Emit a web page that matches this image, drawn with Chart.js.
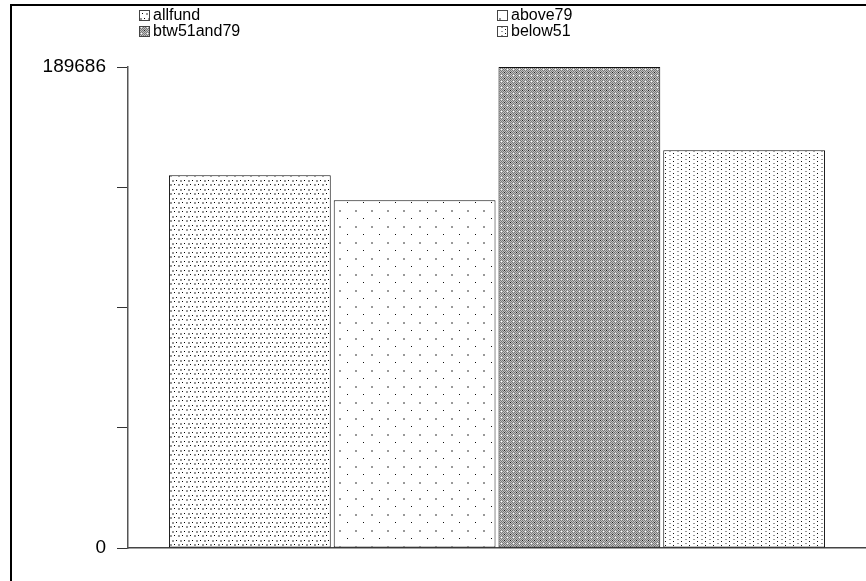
<!DOCTYPE html>
<html>
<head>
<meta charset="utf-8">
<script src="https://cdn.jsdelivr.net/npm/chart.js@4/dist/chart.umd.min.js"></script>
<style>
  html, body { margin: 0; padding: 0; background: #fff; }
  #wrap { position: relative; width: 866px; height: 581px; }
</style>
</head>
<body>
<div id="wrap"><canvas id="c" width="866" height="581"></canvas></div>
<script>
// Fund groups and their values
const categories = [''];
const seriesNames = ['allfund', 'above79', 'btw51and79', 'below51'];
const allfund = [147000];
const above79 = [137100];
const btw51and79 = [189686];
const below51 = [156900];
const yMax = 189686;
const yTickLabels = ['0', '189686'];

// Small tiles used as bar fills
function makePattern(w, h, painter) {
  const c = document.createElement('canvas');
  c.width = w; c.height = h;
  const g = c.getContext('2d');
  g.fillStyle = '#fff';
  g.fillRect(0, 0, w, h);
  painter(g);
  return document.createElement('canvas').getContext('2d').createPattern(c, 'repeat');
}
function dot(g, x, y, col, w = 1, h = 1) { g.fillStyle = col; g.fillRect(x, y, w, h); }

const patDense = makePattern(8, 9, g => {
  dot(g, 0, 0, '#000'); dot(g, 4, 0, '#999', 2, 2);
  dot(g, 2, 4, '#999', 2, 2); dot(g, 6, 4, '#000');
});
const patSparse = makePattern(16, 16, g => {
  dot(g, 3, 2, '#999', 2, 2);
  dot(g, 11, 10, '#111');
});
const patCheck = makePattern(6, 6, g => {
  for (let y = 0; y < 6; y++) {
    for (let x = 0; x < 6; x++) {
      const col = ((x + y) % 2 === 0) ? '#777' : '#c2c2c2';
      dot(g, x, y, col);
    }
  }
  dot(g, 0, 0, '#1a1a1a'); dot(g, 3, 3, '#fafafa');
});
const patMedium = makePattern(8, 8, g => {
  dot(g, 1, 1, '#111'); dot(g, 5, 3, '#999', 2, 1);
  dot(g, 1, 5, '#111'); dot(g, 5, 7, '#999', 2, 1);
});
const fills = [patDense, patSparse, patCheck, patMedium];

// Two-column legend drawn at the top
const legendPlugin = {
  id: 'topLegend',
  afterDraw(chart) {
    const ctx = chart.ctx;
    const spots = [[139, 15], [497, 15], [139, 31], [497, 31]];
    ctx.save();
    ctx.font = '16px "Liberation Sans", Arial, sans-serif';
    ctx.textBaseline = 'middle';
    chart.data.datasets.forEach((ds, i) => {
      const [x, y] = spots[i];
      ctx.fillStyle = ds.backgroundColor;
      ctx.fillRect(x, y - 5, 10, 10);
      ctx.strokeStyle = '#444';
      ctx.lineWidth = 1;
      ctx.strokeRect(x + 0.5, y - 4.5, 10, 10);
      ctx.fillStyle = '#000';
      ctx.fillText(ds.label, x + 14, y + 1);
    });
    ctx.restore();
  }
};

// Outer frame lines on the top and left
const framePlugin = {
  id: 'frame',
  afterDraw(chart) {
    const ctx = chart.ctx;
    ctx.save();
    ctx.fillStyle = '#000';
    ctx.fillRect(10, 4, 856, 2);
    ctx.fillRect(10, 4, 2, 577);
    ctx.restore();
  }
};

const seriesValues = [allfund, above79, btw51and79, below51];

new Chart(document.getElementById('c'), {
  type: 'bar',
  data: {
    labels: categories,
    datasets: seriesNames.map((n, i) => ({
      label: n,
      data: seriesValues[i],
      backgroundColor: fills[i],
      borderColor: '#111',
      borderWidth: 1,
      borderSkipped: false
    }))
  },
  options: {
    responsive: false,
    animation: false,
    events: [],
    categoryPercentage: 0.893,
    barPercentage: 0.982,
    layout: { padding: { top: 67, right: 0, bottom: 25, left: 0 } },
    plugins: { legend: { display: false }, tooltip: { enabled: false } },
    scales: {
      x: {
        grid: { display: false },
        ticks: { display: false },
        border: { display: true, color: '#444', width: 1.5 }
      },
      y: {
        min: 0,
        max: yMax,
        afterBuildTicks(scale) {
          scale.ticks = [0, 1, 2, 3, 4].map(k => ({ value: yMax * k / 4 }));
        },
        afterFit(scale) { scale.width = 128; },
        grid: { drawOnChartArea: false, tickLength: 11, color: '#333', lineWidth: 1 },
        border: { display: true, color: '#555', width: 1.5 },
        ticks: {
          padding: 11,
          color: '#000',
          font: { family: '"Liberation Sans", Arial, sans-serif', size: 19 },
          callback(v, idx, ticks) {
            if (idx === 0) return yTickLabels[0];
            if (idx === ticks.length - 1) return yTickLabels[1];
            return '';
          }
        }
      }
    }
  },
  plugins: [legendPlugin, framePlugin]
});
</script>
</body>
</html>
